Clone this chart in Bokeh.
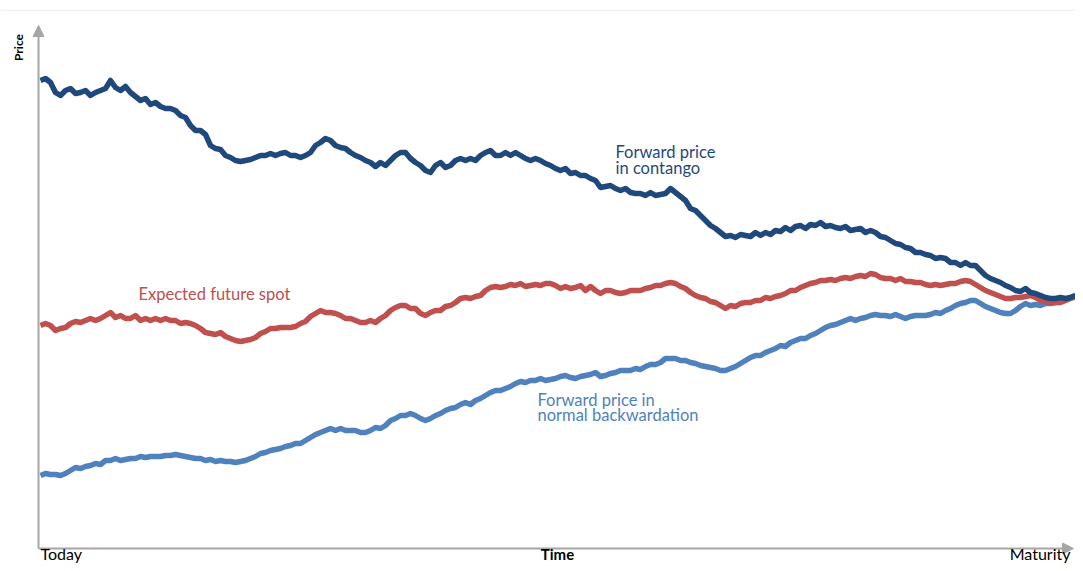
import numpy as np
from bokeh.plotting import figure
from bokeh.models import Range1d, Label, Arrow, NormalHead, Span
from bokeh.embed import file_html
from bokeh.resources import INLINE

# ---- data (time index 0..207, price in arbitrary units) ----
contango = [
    520, 522, 518, 508, 505, 510, 512, 507, 508, 510,
    505, 508, 510, 512, 520, 513, 510, 514, 508, 504,
    500, 502, 496, 498, 494, 492, 492, 490, 485, 483,
    475, 470, 470, 466, 455, 452, 451, 445, 443, 440,
    439, 440, 441, 443, 445, 445, 447, 445, 447, 448,
    445, 445, 443, 445, 448, 455, 458, 462, 460, 455,
    453, 452, 448, 445, 443, 440, 438, 434, 438, 435,
    440, 445, 448, 448, 442, 438, 435, 430, 428, 435,
    438, 433, 435, 440, 442, 440, 442, 440, 445, 448,
    450, 445, 445, 448, 445, 448, 445, 442, 440, 442,
    440, 437, 435, 432, 430, 432, 427, 428, 425, 425,
    422, 420, 413, 414, 415, 412, 410, 412, 408, 407,
    407, 405, 408, 405, 406, 407, 412, 408, 404, 400,
    392, 390, 385, 380, 375, 372, 368, 364, 365, 363,
    366, 365, 364, 368, 365, 368, 366, 370, 369, 373,
    370, 374, 375, 372, 376, 375, 378, 374, 375, 373,
    372, 374, 370, 371, 372, 368, 370, 368, 364, 363,
    360, 357, 356, 353, 352, 348, 348, 346, 345, 342,
    343, 342, 338, 338, 335, 338, 335, 335, 330, 325,
    322, 320, 318, 315, 313, 310, 309, 312, 308, 307,
    305, 303, 302, 302, 303, 302, 303, 305,
]
expected_spot = [
    275, 277, 275, 270, 272, 273, 277, 279, 278, 280,
    282, 280, 282, 285, 288, 283, 285, 282, 282, 285,
    280, 282, 280, 282, 280, 282, 280, 280, 277, 278,
    277, 275, 272, 268, 267, 266, 268, 264, 262, 260,
    259, 260, 261, 263, 267, 269, 272, 272, 273, 273,
    273, 274, 277, 279, 284, 287, 290, 288, 288, 287,
    285, 282, 282, 280, 278, 278, 280, 278, 282, 285,
    290, 293, 295, 295, 292, 292, 287, 285, 288, 290,
    290, 294, 295, 298, 302, 303, 302, 304, 305, 310,
    313, 314, 313, 314, 316, 315, 317, 314, 315, 316,
    315, 317, 317, 315, 312, 314, 312, 313, 315, 310,
    314, 310, 307, 310, 310, 308, 307, 308, 310, 310,
    310, 312, 313, 315, 315, 317, 318, 317, 314, 312,
    308, 305, 303, 302, 299, 298, 295, 292, 295, 294,
    297, 298, 298, 300, 300, 303, 302, 304, 305, 307,
    310, 310, 313, 315, 317, 318, 320, 320, 321, 320,
    322, 323, 322, 324, 325, 324, 327, 326, 323, 322,
    322, 320, 322, 319, 319, 318, 318, 316, 315, 316,
    315, 316, 317, 317, 319, 320, 319, 316, 313, 310,
    308, 306, 304, 302, 302, 303, 303, 304, 305, 303,
    300, 299, 298, 298, 298, 300, 302, 304,
]
backwardation = [
    125, 127, 126, 126, 125, 127, 130, 133, 132, 134,
    135, 137, 136, 140, 140, 142, 140, 141, 142, 142,
    144, 143, 144, 144, 144, 145, 145, 146, 145, 144,
    143, 142, 142, 140, 141, 139, 140, 139, 139, 138,
    139, 140, 142, 144, 147, 148, 150, 151, 152, 154,
    155, 157, 157, 160, 163, 166, 168, 170, 172, 170,
    172, 170, 170, 170, 168, 168, 170, 173, 172, 175,
    180, 182, 185, 185, 187, 185, 182, 180, 182, 185,
    187, 190, 192, 193, 196, 198, 196, 200, 202, 205,
    208, 210, 210, 212, 214, 217, 219, 218, 220, 220,
    222, 220, 221, 222, 224, 225, 223, 222, 224, 225,
    226, 228, 224, 225, 227, 228, 230, 230, 230, 232,
    231, 234, 236, 236, 238, 242, 242, 242, 240, 240,
    238, 237, 235, 234, 233, 232, 230, 230, 232, 234,
    237, 240, 243, 245, 245, 248, 250, 252, 255, 254,
    258, 260, 262, 262, 265, 267, 270, 273, 275, 276,
    278, 280, 282, 280, 282, 283, 285, 286, 285, 285,
    284, 286, 284, 282, 284, 285, 285, 285, 286, 288,
    287, 290, 292, 295, 297, 298, 300, 300, 297, 294,
    292, 290, 288, 287, 287, 290, 294, 297, 295, 296,
    295, 297, 297, 298, 300, 301, 303, 305,
]
time = list(range(len(contango)))

C_DARK = "#1f497d"
C_RED = "#c0504d"
C_LIGHT = "#4f81bd"
AXIS = "#a6a6a6"
FONT = "Lato"

W, H = 1075, 563
p = figure(width=W, height=H, output_backend="svg", toolbar_location=None,
           x_range=Range1d(-8, -8 + W / 5), y_range=Range1d(600 - H, 600),
           min_border=0, min_border_left=0, min_border_right=0,
           min_border_top=0, min_border_bottom=0)
p.xaxis.visible = False
p.yaxis.visible = False
p.xgrid.visible = False
p.ygrid.visible = False
p.outline_line_color = None
p.background_fill_color = "white"
p.border_fill_color = "white"

# faint top border
p.add_layout(Span(location=590, dimension="width", line_color="#f0f0f0", line_width=1))

# axes with arrow heads
ax0 = 52
p.add_layout(Arrow(end=NormalHead(size=11, fill_color=AXIS, line_color=AXIS),
                   x_start=-0.4, y_start=ax0, x_end=-0.4, y_end=575,
                   line_color=AXIS, line_width=2))
p.add_layout(Arrow(end=NormalHead(size=11, fill_color=AXIS, line_color=AXIS),
                   x_start=-0.4, y_start=ax0, x_end=206.6, y_end=ax0,
                   line_color=AXIS, line_width=2))

lw = 5.5
p.line(time, backwardation, line_color=C_LIGHT, line_width=lw, line_join="round")
p.line(time, expected_spot, line_color=C_RED, line_width=lw, line_join="round")
p.line(time, contango, line_color=C_DARK, line_width=lw, line_join="round")

def lab(x, y, text, color, size="16.5px", style="normal", align="left",
        baseline="middle", angle=0):
    p.add_layout(Label(x=x, y=y, text=text, text_color=color, text_font=FONT,
                       text_font_size=size, text_font_style=style,
                       text_align=align, text_baseline=baseline, angle=angle))

lab(115.0, 449, "Forward price", C_DARK)
lab(115.0, 433, "in contango", C_DARK)
lab(19.6, 307, "Expected future spot", C_RED)
lab(99.4, 201, "Forward price in", C_LIGHT)
lab(99.4, 186, "normal backwardation", C_LIGHT)

lab(-4.4, 553, "Price", "black", size="12px", style="bold", align="center",
    angle=np.pi / 2)
lab(0.0, 38, "Today", "black", size="16px", baseline="bottom")
lab(206.0, 38, "Maturity", "black", size="16px", align="right", baseline="bottom")
lab(103.4, 38, "Time", "black", size="15px", style="bold", align="center",
    baseline="bottom")

open("out.html", "w").write(file_html(p, INLINE))
